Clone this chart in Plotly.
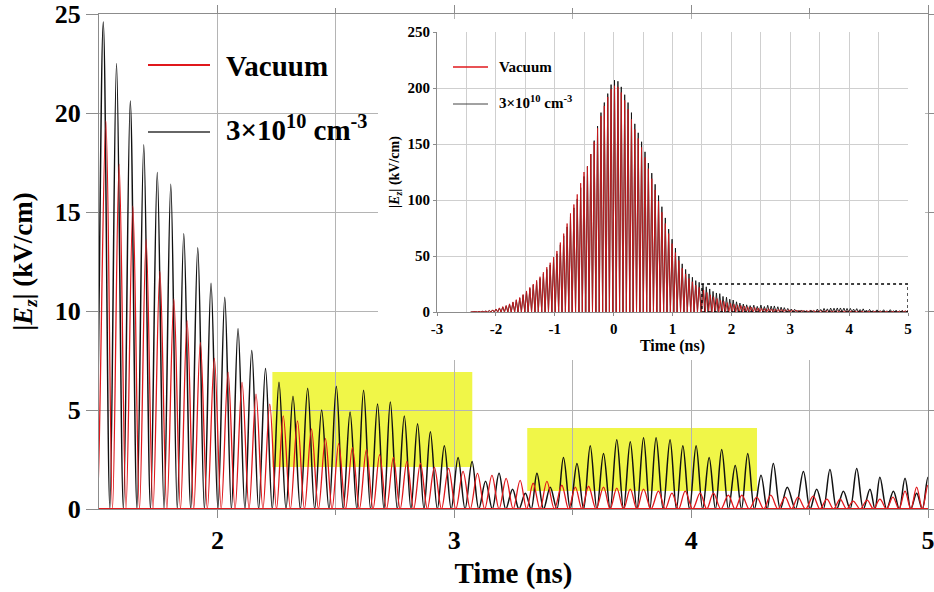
import plotly.graph_objects as go

# ---------------- data ----------------
# carrier peaks of the pulse before 1.5 ns (shown only in the inset)
early_t = [-2.400, -2.343, -2.285, -2.228, -2.170, -2.113, -2.055, -1.998, -1.940, -1.883,
           -1.825, -1.768, -1.710, -1.653, -1.595, -1.538, -1.480, -1.423, -1.365, -1.308,
           -1.250, -1.193, -1.135, -1.078, -1.020, -0.963, -0.905, -0.848, -0.790, -0.733,
           -0.675, -0.618, -0.560, -0.503, -0.445, -0.388, -0.330, -0.273, -0.215, -0.158,
           -0.100, -0.043, 0.015, 0.073, 0.130, 0.188, 0.245, 0.303, 0.360, 0.418,
           0.475, 0.533, 0.590, 0.648, 0.705, 0.763, 0.820, 0.878, 0.935, 0.993,
           1.050, 1.108, 1.165, 1.223, 1.280, 1.338, 1.395, 1.453]
early_plasma = [0.2, 0.3, 0.4, 0.55, 0.8, 1.2, 1.8, 2.5, 3.5, 4.5,
                5.5, 7, 8.5, 10.5, 12.3, 15, 18, 21, 24, 27,
                30, 34, 38, 42, 47, 52, 60, 68, 76, 85,
                93, 101, 111, 121, 130, 141, 153, 166, 178, 187,
                195, 203, 207, 206, 201, 194, 187, 178, 168, 160,
                152, 143, 133, 124, 114, 104, 94, 84, 74, 65,
                57, 50, 43, 38, 34, 31, 28, 26.5]
early_vacuum = [0.2, 0.3, 0.45, 0.6, 0.85, 1.3, 1.9, 2.7, 3.7, 4.8,
                5.8, 7.3, 9, 11, 13, 15.7, 18.8, 22, 25, 28.3,
                31.5, 35.5, 40, 44, 49, 54.5, 62, 70, 79, 88,
                96, 105, 115, 125, 130, 141, 152, 164, 175, 184,
                192, 199, 202, 201, 196, 189, 181, 172, 163, 155,
                147, 138, 128, 119, 109, 99, 89, 79, 70, 61,
                53, 46, 39, 34, 30, 27, 24, 22]

# carrier peaks from 1.5 ns to 5 ns (main panel)
plasma_t = [1.518, 1.574, 1.632, 1.689, 1.746, 1.803, 1.858, 1.917, 1.973, 2.031,
            2.087, 2.145, 2.203, 2.260, 2.319, 2.381, 2.440, 2.502, 2.560, 2.617,
            2.676, 2.730, 2.789, 2.845, 2.899, 2.958, 3.016, 3.075, 3.132, 3.189,
            3.246, 3.300, 3.349, 3.405, 3.461, 3.518, 3.574, 3.630, 3.686, 3.743,
            3.799, 3.852, 3.911, 3.965, 4.021, 4.076, 4.129, 4.186, 4.239, 4.295,
            4.347, 4.406, 4.474, 4.530, 4.586, 4.643, 4.699, 4.755, 4.797, 4.854,
            4.903, 4.952, 5.000]
plasma_v = [24.6, 22.5, 20.6, 18.4, 17.0, 16.4, 13.9, 13.2, 11.4, 10.7,
            9.1, 8.0, 7.1, 6.4, 5.7, 6.1, 5.0, 6.2, 4.9, 6.0,
            5.3, 5.4, 4.7, 4.3, 3.9, 3.2, 2.6, 2.4, 1.4, 1.8,
            1.0, 0.8, 1.8, 1.1, 2.6, 2.3, 3.2, 2.8, 3.5, 3.4,
            3.6, 3.6, 3.5, 3.2, 3.2, 2.6, 3.0, 2.2, 2.8, 1.7,
            2.3, 1.1, 1.9, 1.0, 2.0, 0.9, 2.05, 1.0, 1.6, 0.9,
            1.55, 0.8, 1.6]
vacuum_t = [1.529, 1.585, 1.643, 1.699, 1.757, 1.816, 1.872, 1.928, 1.987, 2.045,
            2.104, 2.163, 2.221, 2.278, 2.338, 2.397, 2.456, 2.512, 2.570, 2.629,
            2.685, 2.743, 2.800, 2.857, 2.916, 2.976, 3.037, 3.098, 3.159, 3.219,
            3.278, 3.333, 3.391, 3.454, 3.511, 3.567, 3.630, 3.686, 3.743, 3.799,
            3.862, 3.919, 3.975, 4.038, 4.094, 4.157, 4.214, 4.277, 4.336, 4.397,
            4.451, 4.515, 4.573, 4.629, 4.684, 4.743, 4.797, 4.852, 4.903, 4.952,
            5.000]
vacuum_v = [19.6, 17.4, 15.3, 13.6, 12.0, 10.6, 9.5, 8.4, 7.6, 6.9,
            6.4, 5.8, 5.3, 4.7, 4.45, 4.05, 3.55, 3.3, 3.1, 3.0,
            2.75, 2.6, 2.4, 2.3, 2.1, 2.05, 1.9, 1.8, 1.7, 1.55,
            1.45, 1.3, 1.4, 1.2, 1.1, 1.15, 1.1, 1.05, 1.0, 1.0,
            0.9, 0.8, 0.9, 0.8, 0.8, 0.7, 0.7, 0.6, 0.7, 0.6,
            0.6, 0.65, 0.5, 0.5, 0.4, 0.45, 0.5, 0.6, 0.9, 1.1,
            1.2]

# highlighted windows (time ns, field kV/cm)
highlight1 = dict(t0=2.232, t1=3.076, e0=2.12, e1=6.92)
highlight2 = dict(t0=3.308, t1=4.278, e0=0.91, e1=4.09)
zoom_box = dict(t0=1.5, t1=5.0, e0=0.0, e1=25.0)

series_names = ["Vacuum", "3×10<sup>10</sup> cm<sup>-3</sup>"]

# ---------------- helpers ----------------
def humps(tp, vp):
    """|E| returns to zero between successive carrier peaks."""
    xs, ys = [], []
    for i in range(len(tp)):
        left = tp[0] - (tp[1] - tp[0]) / 2 if i == 0 else (tp[i - 1] + tp[i]) / 2
        xs += [left, tp[i]]
        ys += [0.0, vp[i]]
    xs.append(tp[-1] + (tp[-1] - tp[-2]) / 2)
    ys.append(0.0)
    return xs, ys

px_t, px_v = humps(early_t + plasma_t, early_plasma + plasma_v)
vx_t, vx_v = humps(early_t + vacuum_t, early_vacuum + vacuum_v)

RED = "#e0181c"
BLACK = "#111111"
SERIF = "Liberation Serif"
GRID = "#b4b4b4"
AX = "#8c8c8c"
YTITLE = "|<i>E</i><sub><i>z</i></sub>| (kV/cm)"

fig = go.Figure()
# main panel
fig.add_trace(go.Scatter(x=px_t, y=px_v, mode="lines", line=dict(color=BLACK, width=1.5, shape="spline", smoothing=1.0),
                         xaxis="x", yaxis="y", showlegend=False, hoverinfo="skip"))
fig.add_trace(go.Scatter(x=vx_t, y=vx_v, mode="lines", line=dict(color=RED, width=1.3, shape="spline", smoothing=1.0),
                         xaxis="x", yaxis="y", showlegend=False, hoverinfo="skip"))
# white cover panel behind the inset
fig.add_trace(go.Scatter(x=[None], y=[None], xaxis="x2", yaxis="y2", showlegend=False, hoverinfo="skip"))
# inset
fig.add_trace(go.Scatter(x=px_t, y=px_v, mode="lines", line=dict(color=BLACK, width=0.9),
                         xaxis="x3", yaxis="y3", showlegend=False, hoverinfo="skip"))
fig.add_trace(go.Scatter(x=vx_t, y=vx_v, mode="lines", line=dict(color="#c8181c", width=0.9),
                         xaxis="x3", yaxis="y3", showlegend=False, hoverinfo="skip"))

W, H = 934, 592
L, R, T, B = 99, 6, 14, 83
pw, ph = W - L - R, H - T - B
def pxx(x):
    return (x - L) / pw
def pxy(y):
    return (H - B - y) / ph

big_tick = dict(family=SERIF, size=26, color="black", weight="bold")
small_tick = dict(family=SERIF, size=15, color="black", weight="bold")

fig.update_layout(
    width=W, height=H,
    margin=dict(l=L, r=R, t=T, b=B, autoexpand=False),
    paper_bgcolor="white", plot_bgcolor="white",
    showlegend=False,
    xaxis=dict(domain=[0, 1], range=[1.5, 5], tickvals=[2, 3, 4, 5], showgrid=True, gridcolor=GRID, gridwidth=1,
               minor=dict(tickvals=[2.5, 3.5, 4.5], showgrid=True, gridcolor=GRID, ticks="outside", ticklen=5, tickcolor=AX),
               showline=True, linecolor=AX, linewidth=1.2, mirror="allticks", ticks="outside", ticklen=8, tickcolor=AX,
               tickfont=big_tick, zeroline=False, automargin=False, ticklabeloverflow="allow",
               title=dict(text="Time (ns)", font=dict(family=SERIF, size=29, color="black", weight="bold"), standoff=8)),
    yaxis=dict(domain=[0, 1], range=[0, 25], tickvals=[0, 5, 10, 15, 20, 25], showgrid=True, gridcolor=GRID,
               showline=True, linecolor=AX, linewidth=1.2, mirror="allticks", ticks="outside", ticklen=12, tickcolor=AX,
               tickfont=big_tick, zeroline=False, automargin=False, ticklabeloverflow="allow",
               title=dict(text=YTITLE, font=dict(family=SERIF, size=27, color="black", weight="bold"), standoff=14)),
    xaxis2=dict(domain=[pxx(378), pxx(925)], anchor="y2", visible=False, range=[0, 1], automargin=False),
    yaxis2=dict(domain=[pxy(360), pxy(19)], anchor="x2", visible=False, range=[0, 1], automargin=False),
    xaxis3=dict(domain=[pxx(437), pxx(908)], anchor="y3", range=[-3, 5], tickvals=[-3, -2, -1, 0, 1, 2, 3, 4, 5],
                ticktext=["-3", "-2", "-1", "0", "1", "2", "3", "4", "5"],
                showgrid=True, gridcolor="#cfcfcf", minor=dict(dtick=0.5, showgrid=True, gridcolor="#cfcfcf"),
                showline=True, linecolor=AX, ticks="outside", ticklen=3, tickcolor=AX, tickfont=small_tick, zeroline=False,
                automargin=False,
                title=dict(text="Time (ns)", font=dict(family=SERIF, size=16, color="black", weight="bold"), standoff=2)),
    yaxis3=dict(domain=[pxy(312), pxy(32)], anchor="x3", range=[0, 250], tickvals=[0, 50, 100, 150, 200, 250],
                showgrid=True, gridcolor="#cfcfcf", showline=True, linecolor=AX, ticks="outside", ticklen=3, tickcolor=AX,
                tickfont=small_tick, zeroline=False, automargin=False,
                title=dict(text=YTITLE, font=dict(family=SERIF, size=14, color="black", weight="bold"), standoff=4)),
)

shapes = []
for hl in (highlight1, highlight2):
    shapes.append(dict(type="rect", xref="x", yref="y", x0=hl["t0"], x1=hl["t1"], y0=hl["e0"], y1=hl["e1"],
                       fillcolor="rgb(240,246,72)", line=dict(width=0), layer="below"))
shapes.append(dict(type="line", xref="x", yref="y", x0=1.5, x1=5, y0=0, y1=0, line=dict(color=RED, width=2), layer="above"))
shapes.append(dict(type="rect", xref="x3", yref="y3", x0=zoom_box["t0"], x1=zoom_box["t1"], y0=zoom_box["e0"], y1=zoom_box["e1"],
                   line=dict(color="black", width=1.3, dash="dot"), layer="above"))
# legend samples
shapes.append(dict(type="line", xref="paper", yref="paper", x0=pxx(148), x1=pxx(210), y0=pxy(65), y1=pxy(65), line=dict(color=RED, width=2)))
shapes.append(dict(type="line", xref="paper", yref="paper", x0=pxx(148), x1=pxx(210), y0=pxy(132), y1=pxy(132), line=dict(color="#333333", width=1.5)))
shapes.append(dict(type="line", xref="paper", yref="paper", x0=pxx(453), x1=pxx(488), y0=pxy(67), y1=pxy(67), line=dict(color=RED, width=1.5)))
shapes.append(dict(type="line", xref="paper", yref="paper", x0=pxx(453), x1=pxx(488), y0=pxy(104), y1=pxy(104), line=dict(color="#444444", width=1)))
fig.update_layout(shapes=shapes)

ann = []
ann.append(dict(xref="paper", yref="paper", x=pxx(224), y=pxy(66), text=series_names[0], showarrow=False,
                xanchor="left", yanchor="middle", font=dict(family=SERIF, size=29, color="black", weight="bold")))
ann.append(dict(xref="paper", yref="paper", x=pxx(224), y=pxy(128), text=series_names[1], showarrow=False,
                xanchor="left", yanchor="middle", font=dict(family=SERIF, size=29, color="black", weight="bold")))
ann.append(dict(xref="paper", yref="paper", x=pxx(497), y=pxy(67), text=series_names[0], showarrow=False,
                xanchor="left", yanchor="middle", font=dict(family=SERIF, size=15, color="black", weight="bold")))
ann.append(dict(xref="paper", yref="paper", x=pxx(497), y=pxy(102), text=series_names[1], showarrow=False,
                xanchor="left", yanchor="middle", font=dict(family=SERIF, size=15, color="black", weight="bold")))
fig.update_layout(annotations=ann)

fig.write_html("out.html")
